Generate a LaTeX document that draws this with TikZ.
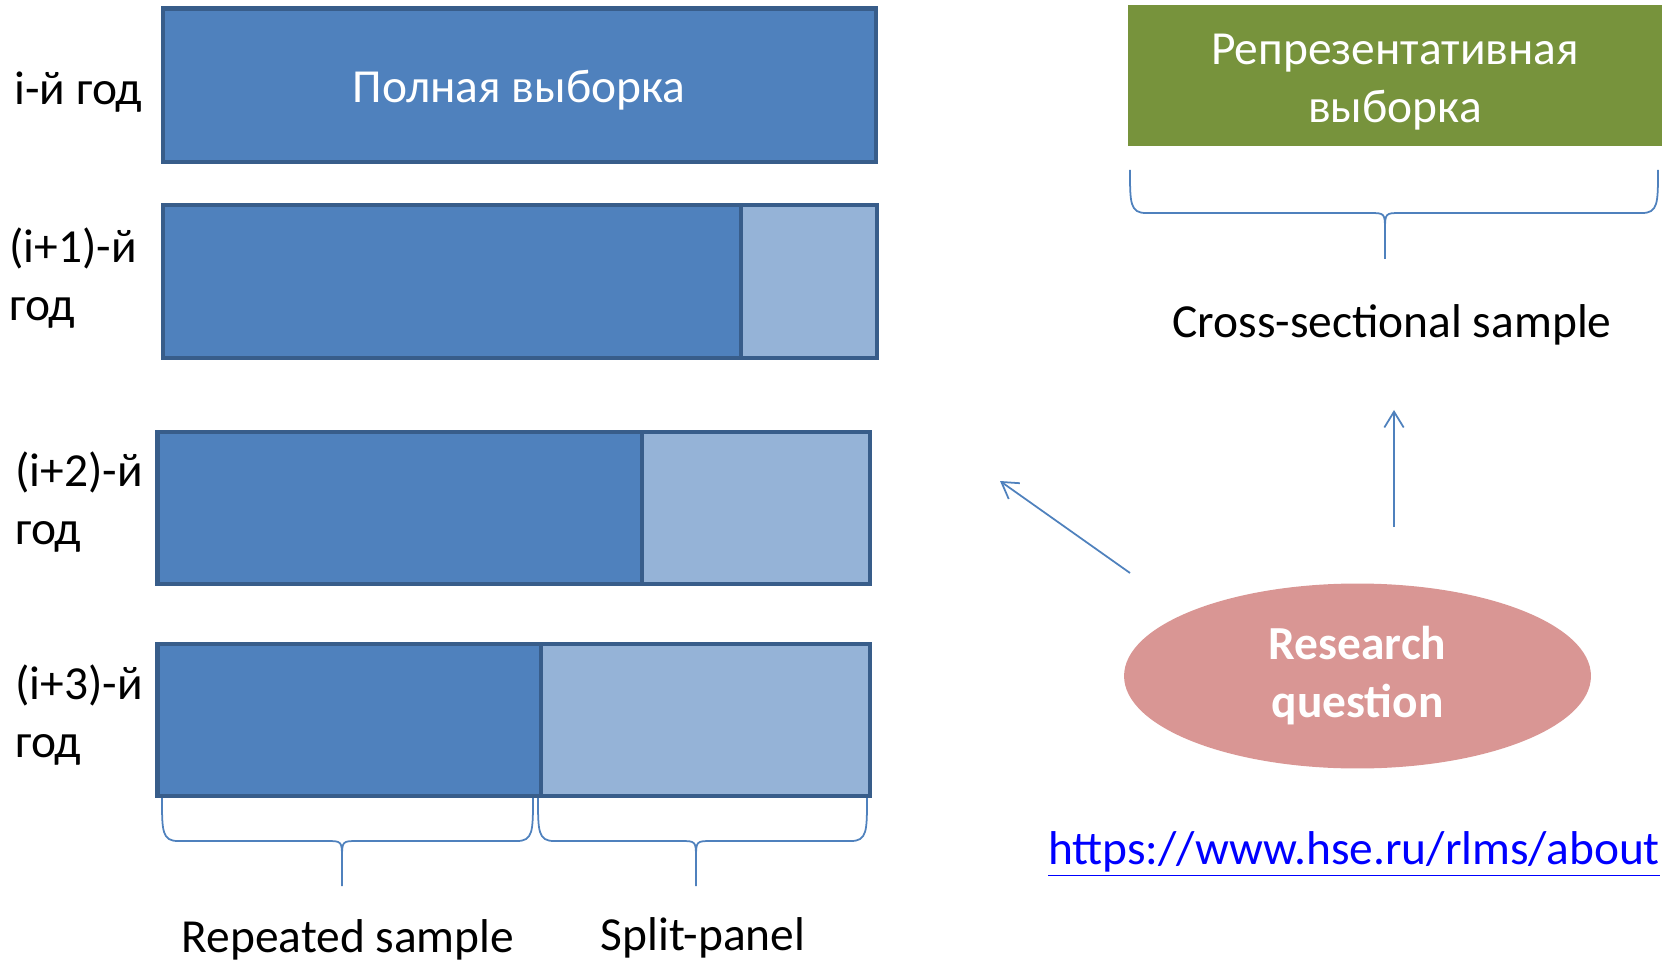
\documentclass[tikz,border=0pt]{standalone}
\usepackage{fontspec}
\setmainfont{Carlito}
\usepackage{tikz}
\usetikzlibrary{calc,positioning,arrows.meta,shapes.geometric}
\definecolor{rlblue}{RGB}{79,129,189}
\definecolor{rledge}{RGB}{56,93,138}
\definecolor{rllight}{RGB}{149,179,215}
\definecolor{rlgreen}{RGB}{119,147,60}
\definecolor{rlpink}{RGB}{217,150,148}
\definecolor{rllink}{RGB}{0,0,255}
\tikzset{
  barline/.style={draw=rledge,line width=2.5pt},
  braceline/.style={draw=rlblue,line width=1pt},
  txt/.style={font=\fontsize{27}{33}\selectfont,inner sep=0pt},
  yearlabel/.style={txt,anchor=west,align=left},
  conn/.style={draw=rlblue,line width=1pt,-{Straight Barb[length=9pt,width=11pt]}},
}
% bar: top, bottom, left, split, right
\newcommand{\yearbar}[5]{%
  \fill[rlblue] (#3,#1) rectangle (#4,#2);
  \fill[rllight] (#4,#1) rectangle (#5,#2);
  \draw[barline] (#3,#1) rectangle (#5,#2);
  \draw[barline] (#4,#1) -- (#4,#2);}
% brace: left, right, tip x, top, middle, tip y
\newcommand{\hbrace}[6]{%
  \draw[braceline] (#1,#4) .. controls (#1,#5-10) and (#1,#5) .. (#1+16,#5)
    -- (#3-16,#5) .. controls (#3,#5) and (#3,#5) .. (#3,#5+18) -- (#3,#6);
  \draw[braceline] (#2,#4) .. controls (#2,#5-10) and (#2,#5) .. (#2-16,#5)
    -- (#3+16,#5) .. controls (#3,#5) and (#3,#5) .. (#3,#5+18);}

\begin{document}
\begin{tikzpicture}[x=0.02cm,y=-0.02cm]
  \useasboundingbox (0,0) rectangle (1669,962);
  % year bars
  \yearbar{8.5}{162}{163}{876}{876}
  \yearbar{205}{358}{163}{741}{877}
  \yearbar{432}{584}{157.5}{642}{870}
  \yearbar{644}{796}{157.5}{541}{870}
  \node[txt,text=white] (full) at (519,90) {Полная выборка};
  \node[yearlabel] (y0) at (14,92) {i-й год};
  \node[yearlabel] (y1) at (9,278) {(i+1)-й\\год};
  \node[yearlabel] (y2) at (15,502) {(i+2)-й\\год};
  \node[yearlabel] (y3) at (15,715) {(i+3)-й\\год};
  % braces under the bars
  \hbrace{162}{533}{342}{798}{841}{886}
  \hbrace{538}{867}{696}{798}{841}{886}
  \node[txt] (rep) at (348,940) {Repeated sample};
  \node[txt] (split) at (703,938) {Split-panel};
  % right part
  \node[fill=rlgreen,minimum width=10.68cm,minimum height=2.82cm] (repr) at (1395,75.5) {};
  \node[txt,text=white,align=center] (reprtxt) at (1395,82) {Репрезентативная\\выборка};
  \hbrace{1130}{1658}{1385}{170}{213}{259}
  \node[txt] (cross) at (1392,325) {Cross-sectional sample};
  \node[ellipse,fill=rlpink,minimum width=9.34cm,minimum height=3.7cm,
    txt,font=\fontsize{27}{33}\selectfont\bfseries,text=white,align=center] (rq) at (1357.5,676) {Research\\question};
  \coordinate (upfoot) at (1394,527);
  \coordinate (uphead) at (1394,410);
  \coordinate (diagfoot) at (1130,573);
  \coordinate (diaghead) at (1000,481);
  \draw[conn] (upfoot) -- (uphead);
  \draw[conn] (diagfoot) -- (diaghead);
  \node[txt,text=rllink] (url) at (1354,854) {\underline{https://www.hse.ru/rlms/about}};
\end{tikzpicture}
\end{document}
